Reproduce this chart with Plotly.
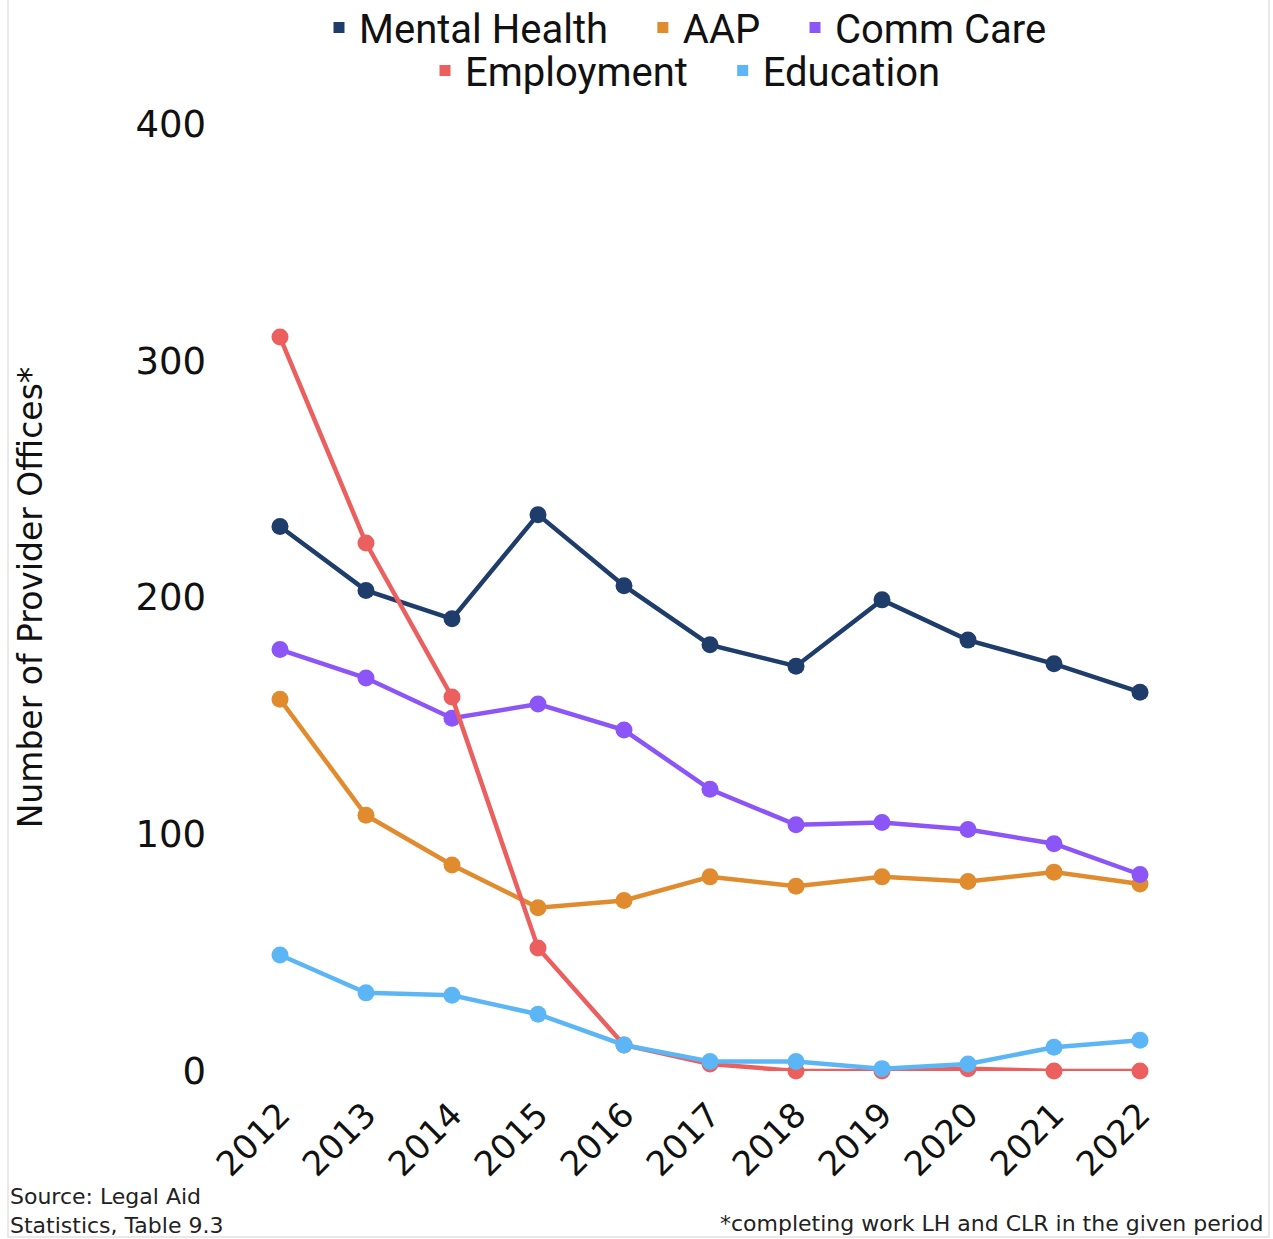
import plotly.graph_objects as go

years = ["2012", "2013", "2014", "2015", "2016", "2017", "2018", "2019", "2020", "2021", "2022"]
mental_health = [230, 203, 191, 235, 205, 180, 171, 199, 182, 172, 160]
aap = [157, 108, 87, 69, 72, 82, 78, 82, 80, 84, 79]
comm_care = [178, 166, 149, 155, 144, 119, 104, 105, 102, 96, 83]
employment = [310, 223, 158, 52, 11, 3, 0, 0, 1, 0, 0]
education = [49, 33, 32, 24, 11, 4, 4, 1, 3, 10, 13]
y_ticks = [0, 100, 200, 300, 400]

series = [
    ("Mental Health", mental_health, "#1f3d6b", "legend"),
    ("AAP", aap, "#e08c2e", "legend"),
    ("Comm Care", comm_care, "#8b55f7", "legend"),
    ("Employment", employment, "#eb5f5f", "legend2"),
    ("Education", education, "#5cb6f6", "legend2"),
]
draw_order = [1, 2, 0, 3, 4]

W, H = 1273, 1239
L, R, T, B = 237, 90, 124, 168
pw, ph = W - L - R, H - T - B

fig = go.Figure()
for i in draw_order:
    name, vals, col, lg = series[i]
    fig.add_trace(go.Scatter(
        x=years, y=vals, mode="lines+markers", name=name,
        line=dict(color=col, width=4.5), marker=dict(color=col, size=17),
        showlegend=False, cliponaxis=False, hoverinfo="x+y+name"))
PAD = "\u00a0" * 3
for name, vals, col, lg in series:
    fig.add_trace(go.Scatter(
        x=[None], y=[None], mode="markers", name=name + PAD,
        marker=dict(color=col, size=11, symbol="square"),
        showlegend=True, legend=lg))

FONT = "DejaVu Sans"
fig.update_layout(
    width=W, height=H,
    margin=dict(l=L, r=R, t=T, b=B, autoexpand=False),
    paper_bgcolor="white", plot_bgcolor="white",
    xaxis=dict(type="category", range=[-0.5, 10.5], showgrid=False, zeroline=False,
               showline=False, ticks="", tickangle=-45,
               tickfont=dict(family=FONT, size=34, color="#111111"),
               ticklabelstandoff=16),
    yaxis=dict(range=[0, 400], tickvals=y_ticks, showgrid=False, zeroline=False,
               showline=False, ticks="", tickfont=dict(family=FONT, size=37, color="#111111"),
               ticklabelstandoff=30,
               title=dict(text="Number of Provider Offices*",
                          font=dict(family=FONT, size=33, color="#111111"),
                          standoff=82)),
    legend=dict(orientation="h", x=(700 - L) / pw, xanchor="center",
                y=1 + (T + 5) / ph, yanchor="top",
                font=dict(family="Roboto", size=40, color="#111111"),
                itemwidth=30, bgcolor="rgba(0,0,0,0)"),
    legend2=dict(orientation="h", x=(700 - L) / pw, xanchor="center",
                 y=1 + (T - 38) / ph, yanchor="top",
                 font=dict(family="Roboto", size=40, color="#111111"),
                 itemwidth=30, bgcolor="rgba(0,0,0,0)"),
    showlegend=True,
)

fig.add_annotation(text="Source: Legal Aid<br>Statistics, Table 9.3", xref="paper", yref="paper",
                   x=(8 - L) / pw, y=-(1182 - (T + ph)) / ph, xanchor="left", yanchor="top",
                   align="left", showarrow=False,
                   font=dict(family=FONT, size=22, color="#222222"))
fig.add_annotation(text="*completing work LH and CLR in the given period", xref="paper", yref="paper",
                   x=(1265 - L) / pw, y=-(1209 - (T + ph)) / ph, xanchor="right", yanchor="top",
                   showarrow=False,
                   font=dict(family=FONT, size=22, color="#222222"))

fig.add_shape(type="rect", xref="paper", yref="paper",
              x0=(8 - L) / pw, x1=(1269 - L) / pw,
              y0=-(1237 - (T + ph)) / ph, y1=(T + ph + 20) / ph,
              line=dict(color="#e2e2e2", width=1.5), fillcolor="rgba(0,0,0,0)", layer="below")

fig.write_html("out.html")
